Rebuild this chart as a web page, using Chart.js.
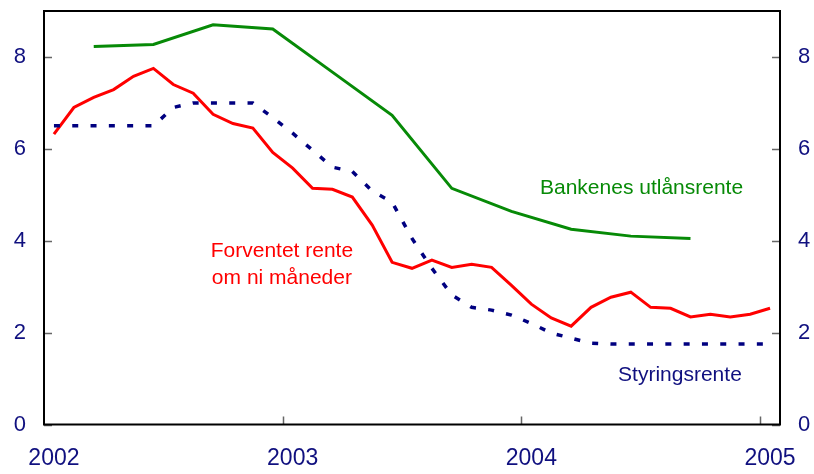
<!DOCTYPE html>
<html>
<head>
<meta charset="utf-8">
<script src="https://cdn.jsdelivr.net/npm/chart.js@4/dist/chart.umd.min.js"></script>
<style>
  html, body { margin: 0; padding: 0; background: #fff; }
  #wrap { width: 814px; height: 474px; }
</style>
</head>
<body>
<div id="wrap"><canvas id="renteChart" width="814" height="474"></canvas></div>
<script>
const months = [
  "2002-01", "2002-02", "2002-03", "2002-04", "2002-05", "2002-06", "2002-07", "2002-08", "2002-09", "2002-10", "2002-11", "2002-12",
  "2003-01", "2003-02", "2003-03", "2003-04", "2003-05", "2003-06", "2003-07", "2003-08", "2003-09", "2003-10", "2003-11", "2003-12",
  "2004-01", "2004-02", "2004-03", "2004-04", "2004-05", "2004-06", "2004-07", "2004-08", "2004-09", "2004-10", "2004-11", "2004-12",
  "2005-01"
];

const forventetRente = [
  6.32, 6.90, 7.12, 7.29, 7.58, 7.75, 7.40, 7.21, 6.75, 6.55, 6.45, 5.92,
  5.58, 5.14, 5.12, 4.95, 4.34, 3.53, 3.40, 3.58, 3.42, 3.49, 3.42, 3.03,
  2.62, 2.32, 2.14, 2.55, 2.77, 2.88, 2.55, 2.53, 2.34, 2.40, 2.34, 2.40,
  2.53
];

const styringsrente = [
  6.5, 6.5, 6.5, 6.5, 6.5, 6.5, 6.9, 7.0, 7.0, 7.0, 7.0, 6.68,
  6.34, 5.97, 5.6, 5.51, 5.08, 4.84, 4.05, 3.40, 2.82, 2.55, 2.49, 2.38,
  2.2, 1.99, 1.88, 1.77, 1.75, 1.75, 1.75, 1.75, 1.75, 1.75, 1.75, 1.75,
  1.75
];

const utlanMonths = ["2002-03", "2002-06", "2002-09", "2002-12", "2003-03", "2003-06", "2003-09", "2003-12", "2004-03", "2004-06", "2004-09"];
const utlanRente = [8.23, 8.27, 8.70, 8.61, 7.67, 6.73, 5.14, 4.64, 4.25, 4.10, 4.05];

const yTicks = [0, 2, 4, 6, 8];

const navy = "#10107f";
const fontFamily = "'Liberation Sans', Arial, sans-serif";

// text labels placed in data coordinates (category index, value)
const labels = [
  { text: "Bankenes utlånsrente", x: 29.54, y: 5.14, color: "#078a07" },
  { text: "Forventet rente", x: 11.46, y: 3.77, color: "#ff0000" },
  { text: "om ni måneder", x: 11.46, y: 3.18, color: "#ff0000" },
  { text: "Styringsrente", x: 31.47, y: 1.08, color: navy }
];

const framePlugin = {
  id: "frame",
  beforeDatasetsDraw(chart) {
    const { ctx, chartArea: a, scales } = chart;
    ctx.save();
    ctx.strokeStyle = "#666";
    ctx.lineWidth = 1.5;
    ctx.beginPath();
    yTicks.forEach((v) => {
      const py = Math.round(scales.y.getPixelForValue(v)) + 0.5;
      ctx.moveTo(a.left, py);
      ctx.lineTo(a.left + 8, py);
      ctx.moveTo(a.right, py);
      ctx.lineTo(a.right - 8, py);
    });
    months.forEach((m, i) => {
      if (m.endsWith("-01") && i > 0) {
        const px = Math.round(scales.x.getPixelForValue(i - 0.5)) + 0.5;
        ctx.moveTo(px, a.bottom);
        ctx.lineTo(px, a.bottom - 8);
      }
    });
    ctx.stroke();

    ctx.strokeStyle = "#000";
    ctx.lineWidth = 2;
    ctx.strokeRect(a.left, a.top, a.right - a.left, a.bottom - a.top);
    ctx.restore();
  },
  afterDatasetsDraw(chart) {
    const { ctx, scales } = chart;
    ctx.save();
    ctx.font = "21px " + fontFamily;
    ctx.textAlign = "center";
    ctx.textBaseline = "middle";
    labels.forEach((l) => {
      ctx.fillStyle = l.color;
      ctx.fillText(l.text, scales.x.getPixelForValue(l.x), scales.y.getPixelForValue(l.y));
    });
    ctx.restore();
  }
};

const yAxis = (position, width) => ({
  type: "linear",
  position: position,
  min: 0,
  max: 9,
  grid: { display: false, drawTicks: false },
  border: { display: false },
  ticks: {
    stepSize: 2,
    includeBounds: false,
    padding: 18,
    color: navy,
    font: { family: fontFamily, size: 22 }
  },
  afterFit(scale) {
    scale.width = width;
    scale.paddingTop = 0;
    scale.paddingBottom = 0;
  }
});

new Chart(document.getElementById("renteChart"), {
  type: "line",
  data: {
    labels: months,
    datasets: [
      {
        label: "Styringsrente",
        data: styringsrente,
        borderColor: "#000080",
        borderWidth: 3.5,
        borderDash: [6, 12.3],
        pointRadius: 0,
        tension: 0
      },
      {
        label: "Forventet rente om ni måneder",
        data: forventetRente,
        borderColor: "#ff0000",
        borderWidth: 3,
        pointRadius: 0,
        tension: 0
      },
      {
        label: "Bankenes utlånsrente",
        data: utlanMonths.map((m, i) => ({ x: m, y: utlanRente[i] })),
        borderColor: "#078a07",
        borderWidth: 3,
        pointRadius: 0,
        tension: 0
      }
    ]
  },
  options: {
    responsive: false,
    animation: false,
    layout: { padding: { top: 11, left: 0, right: 0, bottom: 0 } },
    plugins: {
      legend: { display: false },
      tooltip: { enabled: false }
    },
    scales: {
      x: {
        type: "category",
        offset: true,
        grid: { display: false, drawTicks: false },
        border: { display: false },
        ticks: {
          autoSkip: false,
          maxRotation: 0,
          padding: 20,
          color: navy,
          font: { family: fontFamily, size: 23 },
          callback: (value, index) => (months[index].endsWith("-01") ? months[index].slice(0, 4) : "")
        },
        afterFit(scale) {
          scale.height = 49.5;
          scale.paddingLeft = 0;
          scale.paddingRight = 0;
        }
      },
      y: yAxis("left", 44),
      y2: yAxis("right", 34)
    }
  },
  plugins: [framePlugin]
});
</script>
</body>
</html>
